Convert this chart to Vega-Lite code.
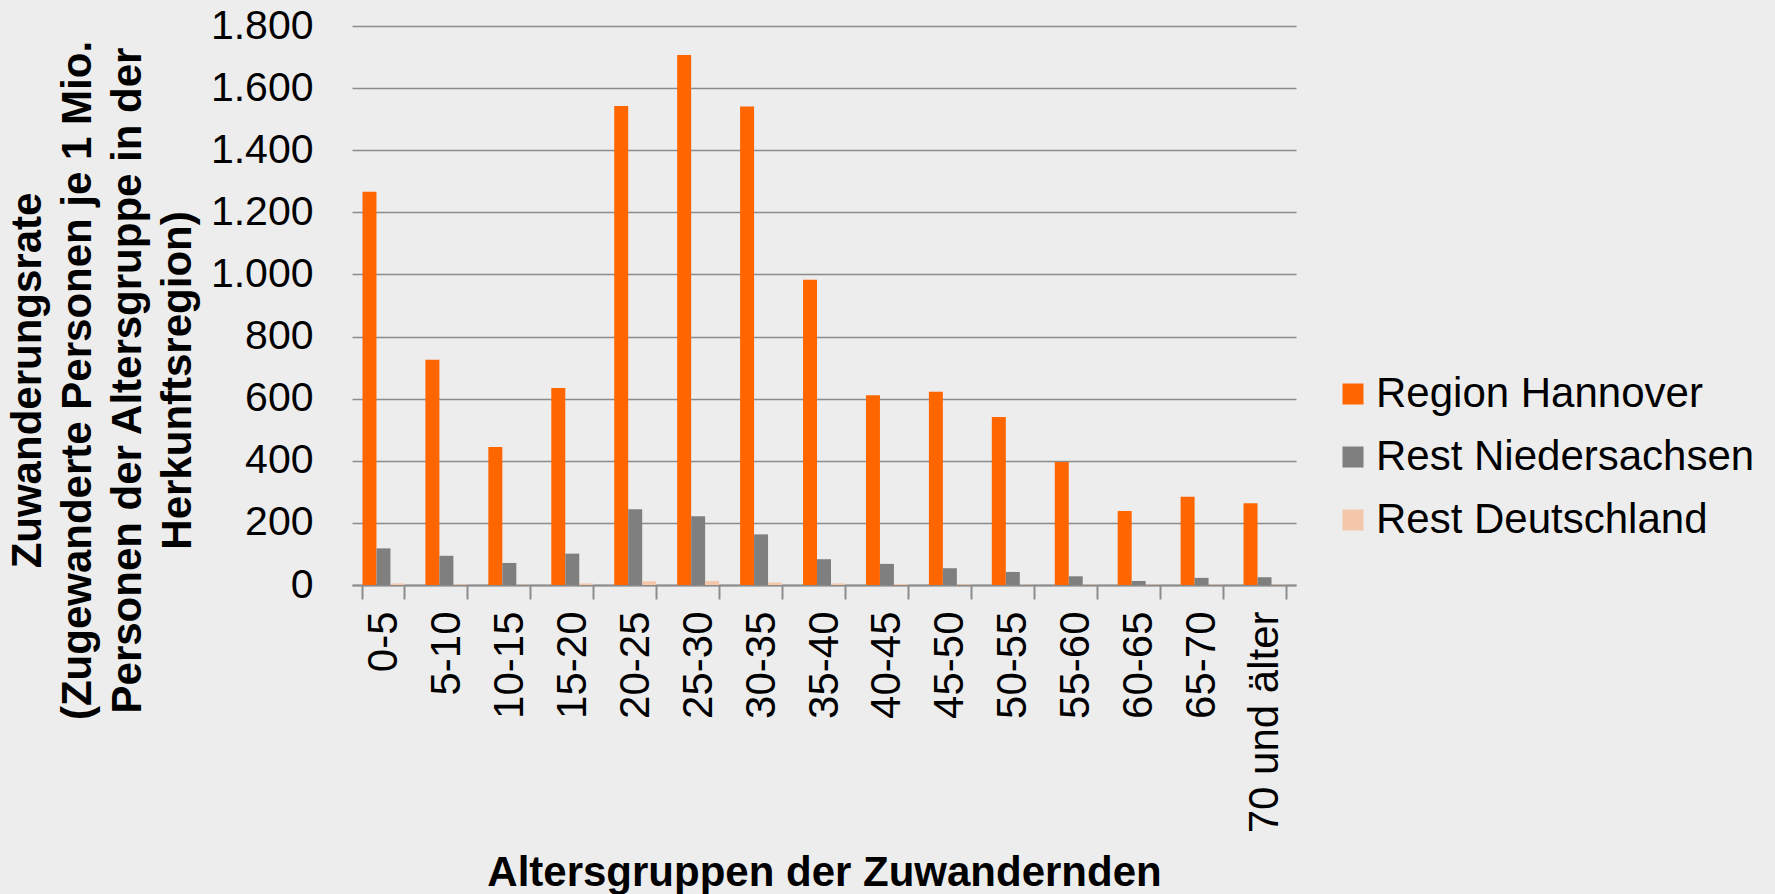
{
  "$schema": "https://vega.github.io/schema/vega-lite/v6.json",
  "width": 944,
  "height": 559,
  "autosize": {"type": "none"},
  "padding": {"left": 352, "top": 26, "right": 479, "bottom": 309},
  "background": "#EDEDED",
  "config": {"view": {"stroke": null}, "font": "Liberation Sans"},
  "data": {
    "values": [
      {"Altersgruppe": "0-5", "Region": "Region Hannover", "Rate": 1266},
      {"Altersgruppe": "0-5", "Region": "Rest Niedersachsen", "Rate": 118},
      {"Altersgruppe": "0-5", "Region": "Rest Deutschland", "Rate": 5},
      {"Altersgruppe": "5-10", "Region": "Region Hannover", "Rate": 725},
      {"Altersgruppe": "5-10", "Region": "Rest Niedersachsen", "Rate": 94},
      {"Altersgruppe": "5-10", "Region": "Rest Deutschland", "Rate": 2},
      {"Altersgruppe": "10-15", "Region": "Region Hannover", "Rate": 444},
      {"Altersgruppe": "10-15", "Region": "Rest Niedersachsen", "Rate": 71},
      {"Altersgruppe": "10-15", "Region": "Rest Deutschland", "Rate": 1},
      {"Altersgruppe": "15-20", "Region": "Region Hannover", "Rate": 634},
      {"Altersgruppe": "15-20", "Region": "Rest Niedersachsen", "Rate": 101},
      {"Altersgruppe": "15-20", "Region": "Rest Deutschland", "Rate": 5},
      {"Altersgruppe": "20-25", "Region": "Region Hannover", "Rate": 1542},
      {"Altersgruppe": "20-25", "Region": "Rest Niedersachsen", "Rate": 244},
      {"Altersgruppe": "20-25", "Region": "Rest Deutschland", "Rate": 12},
      {"Altersgruppe": "25-30", "Region": "Region Hannover", "Rate": 1707},
      {"Altersgruppe": "25-30", "Region": "Rest Niedersachsen", "Rate": 221},
      {"Altersgruppe": "25-30", "Region": "Rest Deutschland", "Rate": 13},
      {"Altersgruppe": "30-35", "Region": "Region Hannover", "Rate": 1541},
      {"Altersgruppe": "30-35", "Region": "Rest Niedersachsen", "Rate": 163},
      {"Altersgruppe": "30-35", "Region": "Rest Deutschland", "Rate": 8},
      {"Altersgruppe": "35-40", "Region": "Region Hannover", "Rate": 983},
      {"Altersgruppe": "35-40", "Region": "Rest Niedersachsen", "Rate": 83},
      {"Altersgruppe": "35-40", "Region": "Rest Deutschland", "Rate": 5},
      {"Altersgruppe": "40-45", "Region": "Region Hannover", "Rate": 611},
      {"Altersgruppe": "40-45", "Region": "Rest Niedersachsen", "Rate": 68},
      {"Altersgruppe": "40-45", "Region": "Rest Deutschland", "Rate": 3},
      {"Altersgruppe": "45-50", "Region": "Region Hannover", "Rate": 622},
      {"Altersgruppe": "45-50", "Region": "Rest Niedersachsen", "Rate": 54},
      {"Altersgruppe": "45-50", "Region": "Rest Deutschland", "Rate": 2},
      {"Altersgruppe": "50-55", "Region": "Region Hannover", "Rate": 541},
      {"Altersgruppe": "50-55", "Region": "Rest Niedersachsen", "Rate": 42},
      {"Altersgruppe": "50-55", "Region": "Rest Deutschland", "Rate": 1},
      {"Altersgruppe": "55-60", "Region": "Region Hannover", "Rate": 396},
      {"Altersgruppe": "55-60", "Region": "Rest Niedersachsen", "Rate": 28},
      {"Altersgruppe": "55-60", "Region": "Rest Deutschland", "Rate": 1},
      {"Altersgruppe": "60-65", "Region": "Region Hannover", "Rate": 238},
      {"Altersgruppe": "60-65", "Region": "Rest Niedersachsen", "Rate": 13},
      {"Altersgruppe": "60-65", "Region": "Rest Deutschland", "Rate": 1},
      {"Altersgruppe": "65-70", "Region": "Region Hannover", "Rate": 284},
      {"Altersgruppe": "65-70", "Region": "Rest Niedersachsen", "Rate": 23},
      {"Altersgruppe": "65-70", "Region": "Rest Deutschland", "Rate": 1},
      {"Altersgruppe": "70 und älter", "Region": "Region Hannover", "Rate": 263},
      {"Altersgruppe": "70 und älter", "Region": "Rest Niedersachsen", "Rate": 25},
      {"Altersgruppe": "70 und älter", "Region": "Rest Deutschland", "Rate": 1}
    ]
  },
  "mark": {"type": "bar"},
  "encoding": {
    "x": {
      "field": "Altersgruppe",
      "type": "nominal",
      "sort": ["0-5", "5-10", "10-15", "15-20", "20-25", "25-30", "30-35", "35-40", "40-45", "45-50", "50-55", "55-60", "60-65", "65-70", "70 und älter"],
      "scale": {"paddingInner": 0.3333, "paddingOuter": 0.1667},
      "axis": {
        "title": "Altersgruppen der Zuwandernden",
        "labelAngle": -90,
        "labelFontSize": 42,
        "labelColor": "#000000",
        "labelPadding": 12,
        "labelLimit": 500,
        "labelOverlap": false,
        "tickSize": 14,
        "tickBand": "extent",
        "tickColor": "#8C8C8C",
        "tickWidth": 2,
        "domainColor": "#8C8C8C",
        "domainWidth": 2,
        "grid": false,
        "titleFontSize": 42,
        "titleFontWeight": "bold",
        "titleColor": "#000000",
        "titleX": 472,
        "titleY": 300,
        "titleAlign": "center",
        "titleBaseline": "alphabetic"
      }
    },
    "xOffset": {
      "field": "Region",
      "type": "nominal",
      "sort": ["Region Hannover", "Rest Niedersachsen", "Rest Deutschland"],
      "scale": {"paddingInner": 0, "paddingOuter": 0}
    },
    "y": {
      "field": "Rate",
      "type": "quantitative",
      "scale": {"domain": [0, 1800], "nice": false},
      "axis": {
        "values": [0, 200, 400, 600, 800, 1000, 1200, 1400, 1600, 1800],
        "labelExpr": "replace(format(datum.value, ','), ',', '.')",
        "domain": false,
        "ticks": false,
        "tickSize": 0,
        "labelPadding": 39,
        "labelFontSize": 41,
        "labelColor": "#000000",
        "gridColor": "#8C8C8C",
        "gridWidth": 1.5,
        "title": ["Zuwanderungsrate", "(Zugewanderte Personen je 1 Mio.", "Personen der Altersgruppe in der", "Herkunftsregion)"],
        "titleFontSize": 42,
        "titleFontWeight": "bold",
        "titleColor": "#000000",
        "titleLineHeight": 50,
        "titleAngle": -90,
        "titleX": -325,
        "titleY": 354,
        "titleAlign": "center",
        "titleBaseline": "middle"
      }
    },
    "color": {
      "field": "Region",
      "type": "nominal",
      "sort": ["Region Hannover", "Rest Niedersachsen", "Rest Deutschland"],
      "scale": {
        "domain": ["Region Hannover", "Rest Niedersachsen", "Rest Deutschland"],
        "range": ["#FF6600", "#7F7F7F", "#F4C7AA"]
      },
      "legend": {
        "title": null,
        "orient": "none",
        "legendX": 980,
        "legendY": 347,
        "symbolType": "square",
        "symbolSize": 441,
        "symbolStrokeWidth": 0,
        "labelFontSize": 42,
        "labelColor": "#000000",
        "labelOffset": 2,
        "labelLimit": 600,
        "rowPadding": 21,
        "padding": 0
      }
    }
  }
}
